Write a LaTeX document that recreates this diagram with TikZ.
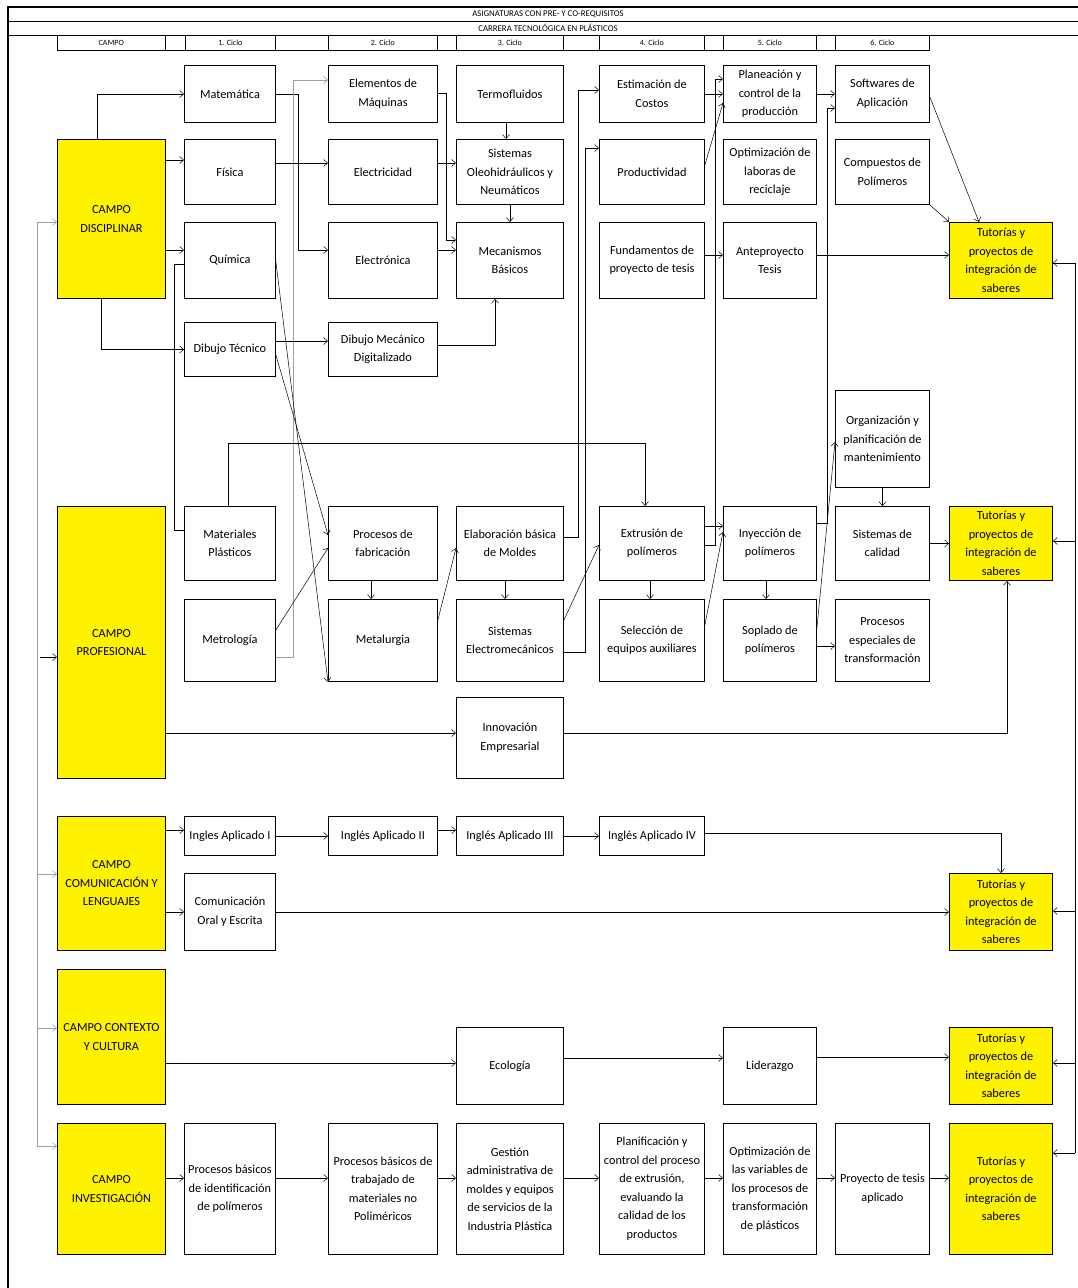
\documentclass[tikz,border=0pt]{standalone}
\usepackage{fontspec}
\setmainfont{Carlito}
\usetikzlibrary{arrows.meta}

\begin{document}
\begin{tikzpicture}[x=1pt, y=-1pt,
    >={Straight Barb[length=4pt,width=7pt]},
    subj/.style={draw, line width=0.9pt, anchor=north west, align=center,
      inner sep=1pt, font=\fontsize{12.3}{18.5}\selectfont},
    campo/.style={subj, fill=yellow},
    conn/.style={->, line width=0.5pt},
    busline/.style={draw=gray!75, line width=0.6pt},
    hdr/.style={draw, line width=0.6pt, anchor=north west, minimum height=15,
      inner sep=0pt, font=\fontsize{8}{9}\selectfont},
    c0/.style={minimum width=108}, c1/.style={minimum width=91},
    c2/.style={minimum width=109}, c3/.style={minimum width=107},
    c4/.style={minimum width=105}, c5/.style={minimum width=93},
    c6/.style={minimum width=94},  c7/.style={minimum width=103}]
  \useasboundingbox (0,0) rectangle (1078,1288);

  % header
  \draw[line width=1.2pt] (8,1288) -- (8,7) -- (1078,7);
  \draw[line width=0.8pt] (8,21) -- (1078,21) (8,35) -- (1078,35);
  \node[font=\fontsize{8.8}{9}\selectfont] (titulo) at (548,14) {ASIGNATURAS CON PRE- Y CO-REQUISITOS};
  \node[font=\fontsize{8.8}{9}\selectfont] (carrera) at (548,28) {CARRERA TECNOLÓGICA EN PLÁSTICOS};
  \node[hdr, minimum width=108] (hcampo) at (57,35) {CAMPO};
  \node[hdr, minimum width=20] (hb0) at (165,35) {};
  \node[hdr, minimum width=90] (hc1) at (185,35) {1. Ciclo};
  \node[hdr, minimum width=53] (hb1) at (275,35) {};
  \node[hdr, minimum width=109] (hc2) at (328,35) {2. Ciclo};
  \node[hdr, minimum width=19] (hb2) at (437,35) {};
  \node[hdr, minimum width=107] (hc3) at (456,35) {3. Ciclo};
  \node[hdr, minimum width=36] (hb3) at (563,35) {};
  \node[hdr, minimum width=105] (hc4) at (599,35) {4. Ciclo};
  \node[hdr, minimum width=19] (hb4) at (704,35) {};
  \node[hdr, minimum width=93] (hc5) at (723,35) {5. Ciclo};
  \node[hdr, minimum width=19] (hb5) at (816,35) {};
  \node[hdr, minimum width=94] (hc6) at (835,35) {6. Ciclo};

  % campo disciplinar
  \node[campo, c0, minimum height=159] (cdis) at (57,139) {CAMPO\\DISCIPLINAR};
  \node[subj, c1, minimum height=57] (mat) at (184,65) {Matemática};
  \node[subj, c1, minimum height=65] (fis) at (184,139) {Física};
  \node[subj, c1, minimum height=76] (qui) at (184,222) {Química};
  \node[subj, c1, minimum height=54] (dtec) at (184,322) {Dibujo Técnico};
  \node[subj, c2, minimum height=57] (elem) at (328,65) {Elementos de\\Máquinas};
  \node[subj, c2, minimum height=65] (elec) at (328,139) {Electricidad};
  \node[subj, c2, minimum height=76] (elon) at (328,222) {Electrónica};
  \node[subj, c2, minimum height=54] (dmec) at (328,322) {Dibujo Mecánico\\Digitalizado};
  \node[subj, c3, minimum height=57] (term) at (456,65) {Termofluidos};
  \node[subj, c3, minimum height=65] (oleo) at (456,139) {Sistemas\\Oleohidráulicos y\\Neumáticos};
  \node[subj, c3, minimum height=76] (meca) at (456,222) {Mecanismos\\Básicos};
  \node[subj, c4, minimum height=57] (esti) at (599,65) {Estimación de\\Costos};
  \node[subj, c4, minimum height=65] (prod) at (599,139) {Productividad};
  \node[subj, c4, minimum height=76] (fund) at (599,222) {Fundamentos de\\proyecto de tesis};
  \node[subj, c5, minimum height=57] (plan) at (723,65) {Planeación y\\control de la\\producción};
  \node[subj, c5, minimum height=65] (opti) at (723,139) {Optimización de\\laboras de\\reciclaje};
  \node[subj, c5, minimum height=76] (ante) at (723,222) {Anteproyecto\\Tesis};
  \node[subj, c6, minimum height=57] (soft) at (835,65) {Softwares de\\Aplicación};
  \node[subj, c6, minimum height=65] (comp) at (835,139) {Compuestos de\\Polímeros};
  \node[campo, c7, minimum height=76] (tut1) at (949,222) {Tutorías y\\proyectos de\\integración de\\saberes};

  % campo profesional
  \node[campo, c0, minimum height=272] (cpro) at (57,506) {CAMPO\\PROFESIONAL};
  \node[subj, c1, minimum height=74] (mpla) at (184,506) {Materiales\\Plásticos};
  \node[subj, c1, minimum height=82] (metr) at (184,599) {Metrología};
  \node[subj, c2, minimum height=74] (pfab) at (328,506) {Procesos de\\fabricación};
  \node[subj, c2, minimum height=82] (meta) at (328,599) {Metalurgia};
  \node[subj, c3, minimum height=74] (molde) at (456,506) {Elaboración básica\\de Moldes};
  \node[subj, c3, minimum height=82] (selm) at (456,599) {Sistemas\\Electromecánicos};
  \node[subj, c3, minimum height=81] (inno) at (456,697) {Innovación\\Empresarial};
  \node[subj, c4, minimum height=74] (extr) at (599,506) {Extrusión de\\polímeros};
  \node[subj, c4, minimum height=82] (sele) at (599,599) {Selección de\\equipos auxiliares};
  \node[subj, c5, minimum height=74] (inye) at (723,506) {Inyección de\\polímeros};
  \node[subj, c5, minimum height=82] (sopl) at (723,599) {Soplado de\\polímeros};
  \node[subj, c6, minimum height=97] (orga) at (835,390) {Organización y\\planificación de\\mantenimiento};
  \node[subj, c6, minimum height=74] (scal) at (835,506) {Sistemas de\\calidad};
  \node[subj, c6, minimum height=82] (pesp) at (835,599) {Procesos\\especiales de\\transformación};
  \node[campo, c7, minimum height=74] (tut2) at (949,506) {Tutorías y\\proyectos de\\integración de\\saberes};

  % campo comunicacion
  \node[campo, c0, minimum height=134] (ccom) at (57,816) {CAMPO\\COMUNICACIÓN Y\\LENGUAJES};
  \node[subj, c1, minimum height=39] (ing1) at (184,816) {Ingles Aplicado I};
  \node[subj, c2, minimum height=39] (ing2) at (328,816) {Inglés Aplicado II};
  \node[subj, c3, minimum height=39] (ing3) at (456,816) {Inglés Aplicado III};
  \node[subj, c4, minimum height=39] (ing4) at (599,816) {Inglés Aplicado IV};
  \node[subj, c1, minimum height=77] (cora) at (184,873) {Comunicación\\Oral y Escrita};
  \node[campo, c7, minimum height=77] (tut3) at (949,873) {Tutorías y\\proyectos de\\integración de\\saberes};

  % campo contexto
  \node[campo, c0, minimum height=135] (ccon) at (57,969) {CAMPO CONTEXTO\\Y CULTURA};
  \node[subj, c3, minimum height=77] (ecol) at (456,1027) {Ecología};
  \node[subj, c5, minimum height=77] (lide) at (723,1027) {Liderazgo};
  \node[campo, c7, minimum height=77] (tut4) at (949,1027) {Tutorías y\\proyectos de\\integración de\\saberes};

  % campo investigacion
  \node[campo, c0, minimum height=131] (cinv) at (57,1123) {CAMPO\\INVESTIGACIÓN};
  \node[subj, c1, minimum height=131] (pbid) at (184,1123) {Procesos básicos\\de identificación\\de polímeros};
  \node[subj, c2, minimum height=131] (pbtr) at (328,1123) {Procesos básicos de\\trabajado de\\materiales no\\Poliméricos};
  \node[subj, c3, minimum height=131] (gest) at (456,1123) {Gestión\\administrativa de\\moldes y equipos\\de servicios de la\\Industria Plástica};
  \node[subj, c4, minimum height=131] (plex) at (599,1123) {Planificación y\\control del proceso\\de extrusión,\\evaluando la\\calidad de los\\productos};
  \node[subj, c5, minimum height=131] (opva) at (723,1123) {Optimización de\\las variables de\\los procesos de\\transformación\\de plásticos};
  \node[subj, c6, minimum height=131] (ptes) at (835,1123) {Proyecto de tesis\\aplicado};
  \node[campo, c7, minimum height=131] (tut5) at (949,1123) {Tutorías y\\proyectos de\\integración de\\saberes};

  % buses
  \coordinate (lb) at (37,0);
  \coordinate (rb) at (1075,0);
  \draw[busline] (lb |- 0,222) -- (lb |- 0,1146);
  \draw[conn, busline] (lb |- 0,222) -- (cdis.west |- 0,222);
  \draw[conn] ([xshift=3]lb |- 0,657) -- (cpro.west |- 0,657);
  \draw[conn, busline] (lb |- 0,874) -- (ccom.west |- 0,874);
  \draw[conn, busline] (lb |- 0,1028) -- (ccon.west |- 0,1028);
  \draw[conn, busline] (lb |- 0,1146) -- (cinv.west |- 0,1146);
  \draw[line width=0.6pt] (tut1.east |- 0,263) -- (rb |- 0,263) -- (rb |- 0,1153);
  \draw[conn] (rb |- 0,263) -- (tut1.east |- 0,263);
  \draw[conn] (rb |- 0,541) -- (tut2.east |- 0,541);
  \draw[conn] (rb |- 0,911) -- (tut3.east |- 0,911);
  \draw[conn] (rb |- 0,1063) -- (tut4.east |- 0,1063);
  \draw[conn] (rb |- 0,1153) -- (tut5.east |- 0,1153);

  % disciplinar
  \draw[conn] (cdis.north west) ++(40,0) |- (mat.west);
  \draw[conn] (cdis.east |- 0,160) -- (fis.west |- 0,160);
  \draw[conn] (cdis.east |- 0,250) -- (qui.west |- 0,250);
  \draw[conn] (cdis.south west) ++(44,0) |- (dtec.west);
  \draw[line width=0.5pt] (qui.west |- 0,264) -- ++(-10,0) |- (mpla.west |- 0,530);
  \draw[conn] (mat.east) -- ++(22,0) |- (elon.west |- 0,250);
  \draw[conn, busline] (metr.east |- 0,657) -- ++(17,0) |- (elem.west |- 0,80);
  \draw[conn] (fis.east |- 0,163) -- (elec.west |- 0,163);
  \draw[conn] (qui.east |- 0,262) -- (meta.south west);
  \draw[conn] (dtec.east |- 0,341) -- (dmec.west |- 0,341);
  \draw[conn] (dtec.east |- 0,355) -- (pfab.west |- 0,535);
  \draw[conn] (metr.east |- 0,630) -- (pfab.west |- 0,548);
  \draw[conn] (elem.east |- 0,93) -- ++(8,0) |- (meca.west |- 0,240);
  \draw[conn] (elec.east |- 0,163) -- (oleo.west |- 0,163);
  \draw[conn] (elon.east |- 0,250) -- (meca.west |- 0,250);
  \draw[conn] (term.south -| 506,0) -- (oleo.north -| 506,0);
  \draw[conn] (oleo.south) -- (meca.north);
  \draw[conn] (dmec.east |- 0,345) -| (meca.south -| 495,0);
  \draw[conn] (esti.east) -- (plan.west);
  \draw[conn] (prod.east |- 0,165) -- (plan.west |- 0,103);
  \draw[conn] (fund.east |- 0,255) -- (ante.west |- 0,255);
  \draw[conn] (plan.east) -- (soft.west);
  \draw[conn] (soft.east |- 0,97) -- (tut1.north -| 979,0);
  \draw[conn] (comp.south east) -- (tut1.north west);
  \draw[conn] (ante.east |- 0,255) -- (tut1.west |- 0,255);

  % profesional
  \draw[conn] (mpla.north -| 228,0) -- ++(0,-63) -| (extr.north -| 645,0);
  \draw[conn] (pfab.south -| 371,0) -- (meta.north -| 371,0);
  \draw[conn] (meta.east |- 0,620) -- (molde.west |- 0,548);
  \draw[conn] (molde.south -| 505,0) -- (selm.north -| 505,0);
  \draw[conn] (molde.east |- 0,537) -- ++(14,0) |- (esti.west |- 0,90);
  \draw[conn] (selm.east |- 0,652) -- ++(21,0) |- (prod.west |- 0,148);
  \draw[conn] (selm.east |- 0,620) -- (extr.west |- 0,545);
  \draw[conn] (cpro.east |- 0,733) -- (inno.west |- 0,733);
  \draw[conn] (inno.east |- 0,733) -| (tut2.south -| 1007,0);
  \draw[conn] (extr.south -| 650,0) -- (sele.north -| 650,0);
  \draw[conn] (extr.east |- 0,526) -- (inye.west |- 0,526);
  \draw[conn] (extr.east |- 0,545) -- ++(10,0) |- (plan.west |- 0,79);
  \draw[conn] (sele.east |- 0,625) -- (inye.west |- 0,532);
  \draw[conn] (inye.south -| 766,0) -- (sopl.north -| 766,0);
  \draw[conn] (inye.east |- 0,523) -- ++(10,0) |- (soft.west |- 0,108);
  \draw[conn] (sopl.east |- 0,628) -- (orga.west |- 0,442);
  \draw[conn] (sopl.east |- 0,646) -- (pesp.west |- 0,646);
  \draw[conn] (orga.south) -- (scal.north);
  \draw[conn] (scal.east) -- (tut2.west);

  % comunicacion, contexto
  \draw[conn] (ccom.east |- 0,830) -- (ing1.west |- 0,830);
  \draw[conn] (ing1.east) -- (ing2.west);
  \draw[conn] (ing2.east |- 0,830) -- (ing3.west |- 0,830);
  \draw[conn] (ing3.east) -- (ing4.west);
  \draw[conn] (ing4.east |- 0,833) -| (tut3.north);
  \draw[conn] (ccom.east |- cora.west) -- (cora.west);
  \draw[conn] (cora.east) -- (tut3.west);
  \draw[conn] (ccon.east |- 0,1063) -- (ecol.west |- 0,1063);
  \draw[conn] (ecol.east |- 0,1058) -- (lide.west |- 0,1058);
  \draw[conn] (lide.east |- 0,1057) -- (tut4.west |- 0,1057);

  % investigacion
  \draw[conn] (cinv.east |- 0,1178) -- (pbid.west |- 0,1178);
  \draw[conn] (pbid.east |- 0,1178) -- (pbtr.west |- 0,1178);
  \draw[conn] (pbtr.east |- 0,1178) -- (gest.west |- 0,1178);
  \draw[conn] (gest.east |- 0,1178) -- (plex.west |- 0,1178);
  \draw[conn] (plex.east |- 0,1178) -- (opva.west |- 0,1178);
  \draw[conn] (opva.east |- 0,1178) -- (ptes.west |- 0,1178);
  \draw[conn] (ptes.east |- 0,1178) -- (tut5.west |- 0,1178);
\end{tikzpicture}
\end{document}
